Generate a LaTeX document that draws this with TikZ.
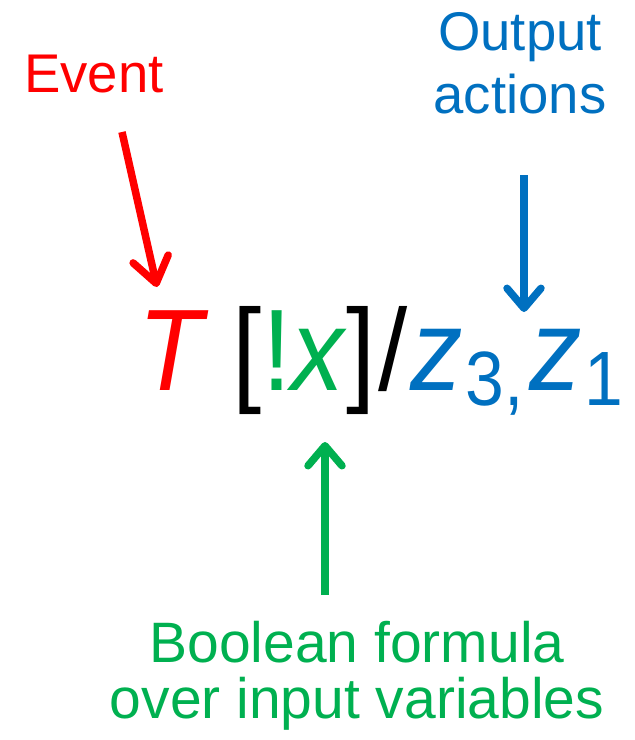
\documentclass[tikz,border=0pt]{standalone}
\usepackage{fontspec}
\setmainfont{Liberation Sans}
\usepackage{tikz}
\usetikzlibrary{arrows.meta, positioning}

\definecolor{evred}{HTML}{FF0000}
\definecolor{actblue}{HTML}{0070C0}
\definecolor{condgreen}{HTML}{00B050}

\newcommand{\subsc}[1]{\hspace{3pt}\raisebox{-15pt}{\fontsize{77}{77}\selectfont #1}}

\begin{document}
\begin{tikzpicture}[
    x=1pt, y=-1pt,
    note/.style={inner sep=0, align=center, font=\fontsize{54.5}{63}\selectfont},
    pointer/.style={line width=7.5pt, -{Straight Barb[length=20pt, width=34pt, round]}}
]
    \useasboundingbox (0,0) rectangle (635,740);

    % transition label
    \node[anchor=base west, inner sep=0, xscale=0.905, transform shape] (trans) at (138,390)
        {\fontsize{116}{116}\selectfont\color{evred}\textit{T}\hspace{27pt}\color{black}[\color{condgreen}!\textit{x}\color{black}]\hspace{3pt}/\hspace{3pt}\color{actblue}\textit{z}\subsc{3,\hspace{6pt}}\textit{z}\subsc{1}};

    \node[note, text=evred, anchor=base] (event) at (94,92) {Event};
    \node[note, text=actblue, anchor=north] (output) at (520,12) {Output\\actions};
    \node[note, text=condgreen, anchor=north, font=\fontsize{57}{56}\selectfont] (formula) at (357,621) {Boolean formula\\over input variables};

    \coordinate (ev-tail) at (122,132);
    \coordinate (ev-tip) at (157,287);
    \coordinate (out-tail) at (524,175);
    \coordinate (out-tip) at (524,312);
    \coordinate (cond-tail) at (325,595);
    \coordinate (cond-tip) at (325,442);

    \draw[pointer, evred, -{Straight Barb[length=25pt, width=36pt, round]}] (ev-tail) -- (ev-tip);
    \draw[pointer, actblue] (out-tail) -- (out-tip);
    \draw[pointer, condgreen] (cond-tail) -- (cond-tip);
\end{tikzpicture}
\end{document}
